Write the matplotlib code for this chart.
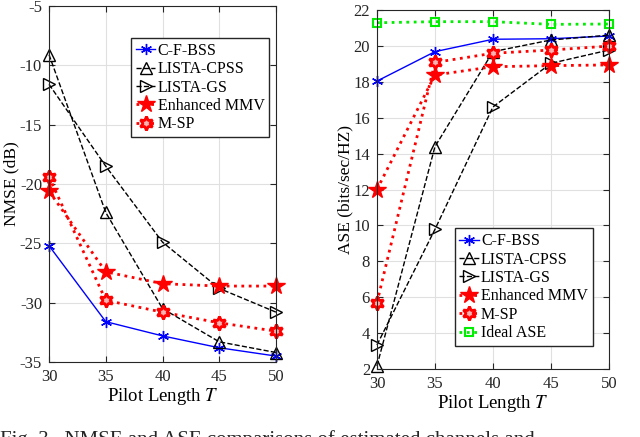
import matplotlib
matplotlib.use('Agg')
import matplotlib.pyplot as plt

plt.rcParams['font.family'] = ['Liberation Serif', 'DejaVu Serif']
plt.rcParams['mathtext.fontset'] = 'stix'
plt.rcParams['axes.unicode_minus'] = False

pilot = [30, 35, 40, 45, 50]

# NMSE (dB)
nmse_cfbss = [-25.2, -31.6, -32.8, -33.8, -34.5]
nmse_cpss = [-9.1, -22.4, -30.5, -33.3, -34.2]
nmse_gs = [-11.6, -18.5, -24.9, -28.8, -30.8]
nmse_mmv = [-20.6, -27.4, -28.4, -28.6, -28.6]
nmse_msp = [-19.4, -29.8, -30.8, -31.7, -32.4]

# ASE (bits/sec/Hz)
ase_cfbss = [18.04, 19.68, 20.37, 20.40, 20.55]
ase_cpss = [2.17, 14.39, 19.68, 20.33, 20.60]
ase_gs = [3.34, 9.78, 16.60, 19.03, 19.77]
ase_mmv = [12.0, 18.38, 18.84, 18.90, 18.94]
ase_msp = [5.7, 19.08, 19.59, 19.77, 19.99]
ase_ideal = [21.29, 21.35, 21.35, 21.20, 21.22]

hexagram = (6, 1, 0)
asterisk = (6, 2, 0)

fig = plt.figure(figsize=(6.4, 4.37), dpi=100)
ax1 = fig.add_axes([0.0766, 0.1716, 0.3547, 0.8146])
ax2 = fig.add_axes([0.589, 0.1556, 0.3625, 0.8215])


def style_axes(ax):
    ax.grid(True, color='#e0e0e0', linewidth=0.8)
    ax.set_axisbelow(True)
    ax.tick_params(direction='in', top=True, right=True, labelsize=12,
                   colors='#262626', length=4, pad=5)
    for s in ax.spines.values():
        s.set_color('#262626')
        s.set_linewidth(0.8)
    ax.set_xlim(30, 50)
    ax.set_xticks(pilot)
    ax.set_xlabel('Pilot Length $T$', fontsize=13.5, labelpad=1)


def legend(ax, **kw):
    ax.legend(fontsize=11.5, fancybox=False, edgecolor='#262626', numpoints=1,
              handlelength=1.2, handletextpad=0.15, borderpad=0.3,
              labelspacing=0.15, borderaxespad=0.0, framealpha=1, **kw)


ax1.plot(pilot, nmse_cfbss, color='blue', marker=asterisk, markersize=8, lw=1, label='C-F-BSS', clip_on=False)
ax1.plot(pilot, nmse_cpss, color='black', ls='--', marker='^', mfc='none', markersize=9, lw=1, label='LISTA-CPSS', clip_on=False)
ax1.plot(pilot, nmse_gs, color='black', ls='--', marker='>', mfc='none', markersize=9, lw=1, label='LISTA-GS', clip_on=False)
ax1.plot(pilot, nmse_mmv, color='red', ls=':', marker='*', markersize=13, lw=2, label='Enhanced MMV', clip_on=False)
ax1.plot(pilot, nmse_msp, color='red', ls=':', marker=hexagram, mfc='#ffb0b0', mew=2, markersize=10, lw=2, label='M-SP', clip_on=False)
style_axes(ax1)
ax1.set_ylim(-35, -5)
ax1.set_yticks([-35, -30, -25, -20, -15, -10, -5])
ax1.set_ylabel('NMSE (dB)', fontsize=12.5, labelpad=0)
legend(ax1, loc='upper right', bbox_to_anchor=(0.97, 0.91))

ax2.plot(pilot, ase_cfbss, color='blue', marker=asterisk, markersize=8, lw=1, label='C-F-BSS', clip_on=False)
ax2.plot(pilot, ase_cpss, color='black', ls='--', marker='^', mfc='none', markersize=9, lw=1, label='LISTA-CPSS', clip_on=False)
ax2.plot(pilot, ase_gs, color='black', ls='--', marker='>', mfc='none', markersize=9, lw=1, label='LISTA-GS', clip_on=False)
ax2.plot(pilot, ase_mmv, color='red', ls=':', marker='*', markersize=13, lw=2, label='Enhanced MMV', clip_on=False)
ax2.plot(pilot, ase_msp, color='red', ls=':', marker=hexagram, mfc='#ffb0b0', mew=2, markersize=10, lw=2, label='M-SP', clip_on=False)
ax2.plot(pilot, ase_ideal, color='#00ee00', ls=':', marker='s', mfc='none', mew=1.5, markersize=6, lw=2, label='Ideal ASE', clip_on=False)
style_axes(ax2)
ax2.set_ylim(2, 22)
ax2.set_yticks(range(2, 23, 2))
ax2.set_ylabel('ASE (bits/sec/HZ)', fontsize=12.5, labelpad=0)
legend(ax2, loc='lower right', bbox_to_anchor=(0.93, 0.064))

fig.text(0.0, 0.016, 'Fig. 3.  NMSE and ASE comparisons of estimated channels and',
         fontsize=15, va='top', ha='left', color='#262626')

fig.savefig('out.png', dpi=100)
